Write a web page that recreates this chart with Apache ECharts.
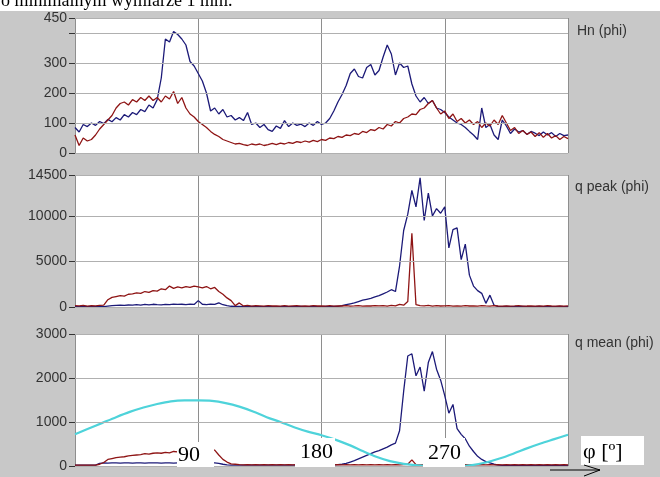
<!DOCTYPE html>
<html><head><meta charset="utf-8">
<script src="https://cdn.jsdelivr.net/npm/echarts@6/dist/echarts.min.js"></script>
<style>html,body{margin:0;padding:0;background:#c8c8c8}#c{width:660px;height:477px}</style>
</head><body><div id="c"></div>
<script>
// phase angle grid (degrees), step 3
const phi = [];
for (let i = 0; i <= 120; i++) phi.push(i * 3);

const hnBlue = [85,70,95,88,100,92,105,98,112,104,
118,110,128,120,135,128,145,138,160,150,
178,250,380,370,405,395,380,360,305,290,
265,240,200,140,150,130,145,120,125,110,
118,108,135,95,100,85,95,78,72,90,
82,108,88,100,92,96,88,100,92,105,
95,100,115,140,170,195,225,265,280,255,
250,285,295,260,275,320,360,330,260,300,
285,290,230,190,170,185,165,175,150,145,
135,120,110,100,95,85,72,60,45,150,
85,95,60,45,110,90,65,80,70,75,
62,72,66,58,70,60,68,55,65,58,
60];
const hnRed = [60,25,50,40,45,60,80,95,110,125,
150,165,170,160,178,170,185,175,190,175,
185,170,190,180,205,165,185,150,130,120,
105,95,85,72,62,55,45,40,35,30,
32,28,25,30,27,30,25,28,32,28,
33,30,35,32,38,35,40,36,42,38,
45,42,50,48,55,52,60,58,65,62,
72,68,78,75,85,80,95,90,105,100,
115,120,130,128,145,150,165,175,150,130,
140,115,130,105,115,100,110,95,105,85,
100,90,110,95,125,100,75,85,65,75,
62,70,55,68,52,65,50,58,45,55,
48];
const qpBlue = [50,40,60,30,50,40,60,50,100,150,
180,200,170,220,200,250,210,280,230,300,
260,230,280,250,320,280,300,260,320,280,
700,300,260,320,280,450,250,150,80,60,
60,50,40,60,50,40,50,60,40,50,
40,60,50,40,50,60,40,50,60,50,
40,60,50,70,60,150,250,350,450,600,
750,850,950,1100,1250,1450,1650,1900,1700,4500,
8400,10200,12800,11000,14200,9500,12500,10000,10800,10300,
11000,6500,8500,8700,5200,6900,3500,2300,1800,1500,
400,1300,200,50,40,60,30,50,40,60,
30,50,40,60,50,30,40,50,60,40,
50];
const qpRed = [150,120,180,100,160,130,170,200,800,1050,
1150,1250,1200,1400,1450,1550,1500,1700,1600,1800,
1750,2000,1900,2300,2050,2200,2100,2250,2150,2300,
2200,2100,2250,2000,2150,1700,1400,1000,700,150,
450,120,180,100,150,120,90,160,110,130,
100,140,90,120,150,100,130,90,140,110,
120,100,150,90,130,110,140,100,120,150,
100,130,110,160,120,140,100,180,130,300,
200,600,8100,250,150,120,180,100,140,110,
130,150,100,120,90,140,110,130,100,150,
120,100,140,110,90,130,100,120,150,100,
110,130,90,120,100,140,110,90,120,100,
130];
const qmBlue = [20,20,20,20,20,20,60,70,65,70,
70,65,70,70,65,70,70,65,70,70,
70,65,70,70,65,70,70,65,70,70,
70,70,65,70,70,60,40,25,20,20,
20,20,20,20,20,20,20,20,20,20,
20,20,20,20,20,20,20,20,20,20,
20,20,25,25,30,40,60,90,120,160,
200,240,280,320,350,390,430,480,520,800,
1700,2500,2550,2050,2250,1700,2350,2600,2200,1950,
1600,1200,1400,850,720,620,450,330,220,150,
100,70,40,20,15,15,15,15,15,15,
15,15,15,15,15,15,15,15,15,15,
15];
const qmRed = [20,20,20,20,20,20,40,80,150,170,
190,200,210,230,240,250,260,280,270,290,
300,290,310,300,330,320,350,340,360,350,
370,360,350,370,360,250,150,90,50,40,
30,25,30,25,30,25,30,25,30,25,
30,25,30,25,30,25,30,25,30,25,
30,25,30,25,30,25,30,25,30,25,
30,25,30,25,30,25,30,25,30,25,
30,40,140,30,25,30,25,30,25,30,
25,30,25,30,25,30,25,30,25,30,
25,30,25,30,25,30,25,30,25,30,
25,30,25,30,25,30,25,30,25,30,
25];
// test voltage (sine) sampled every 10 degrees
const voltPhi = [0,10,20,30,40,50,60,70,80,90,100,110,120,130,140,150,160,170,180,
190,200,210,220,230,240,250,260,270,280,290,300,310,320,330,340,350,360];
const voltVals = [720,850,980,1110,1230,1330,1410,1470,1490,1490,1480,1430,1350,1240,1110,1000,880,780,700,
600,480,340,210,110,50,15,0,0,0,20,80,170,280,400,510,610,710];

const panelNames = ['Hn (phi)', 'q peak (phi)', 'q mean (phi)'];
const yMax = [450, 14500, 3000];
const yStep = [100, 5000, 1000];
const xTickLabels = ['90', '180', '270'];
const xUnit = 'φ [º]';
const caption = 'o minimalnym wymiarze 1 mm.';

const pairs = (xs, ys) => xs.map((x, i) => [x, ys[i]]);

const NAVY = '#1c1a78', RED = '#8e1414', CYAN = '#4ed3da';
const grids = [
  {left: 75, top: 18, width: 493, height: 135},
  {left: 75, top: 175, width: 493, height: 132},
  {left: 75, top: 334, width: 493, height: 132}
];
const font = '"Liberation Sans", Arial, sans-serif';

const option = {
  animation: false,
  backgroundColor: '#c8c8c8',
  grid: grids.map(g => Object.assign({show: true, backgroundColor: '#ffffff', borderWidth: 0}, g)),
  xAxis: grids.map((g, i) => ({
    type: 'value', gridIndex: i, min: 0, max: 360, interval: 90,
    axisLabel: {show: false}, axisTick: {show: false}, axisLine: {show: false},
    splitLine: {lineStyle: {color: '#8e8e8e', width: 1}}
  })),
  yAxis: grids.map((g, i) => ({
    type: 'value', gridIndex: i, min: 0, max: yMax[i], interval: yStep[i], offset: 5, z: 5,
    axisLine: {show: false},
    axisTick: {show: true, length: 6, lineStyle: {color: '#333'}},
    axisLabel: {margin: 3, color: '#333', fontSize: 14, fontFamily: font,
      formatter: v => (i === 0 && v === 400) ? '' : String(v)},
    splitLine: {lineStyle: {color: '#b0b0b0', width: 1}}
  })),
  series: [
    {type: 'line', xAxisIndex: 0, yAxisIndex: 0, data: pairs(phi, hnBlue), color: NAVY},
    {type: 'line', xAxisIndex: 0, yAxisIndex: 0, data: pairs(phi, hnRed), color: RED},
    {type: 'line', xAxisIndex: 1, yAxisIndex: 1, data: pairs(phi, qpBlue), color: NAVY},
    {type: 'line', xAxisIndex: 1, yAxisIndex: 1, data: pairs(phi, qpRed), color: RED},
    {type: 'line', xAxisIndex: 2, yAxisIndex: 2, data: pairs(phi, qmBlue), color: NAVY},
    {type: 'line', xAxisIndex: 2, yAxisIndex: 2, data: pairs(phi, qmRed), color: RED},
    {type: 'line', xAxisIndex: 2, yAxisIndex: 2, data: pairs(voltPhi, voltVals), color: CYAN, smooth: 0.3,
      lineStyle: {width: 2.2}}
  ].map(s => Object.assign({symbol: 'none', showSymbol: false, lineStyle: {width: 1.3}}, s)),
  graphic: [
    {type: 'rect', shape: {x: 0, y: 0, width: 660, height: 11}, style: {fill: '#ffffff'}, z: 0},
    {type: 'text', x: 1, y: 1, z: 1, style: {text: caption, font: '18px "Liberation Serif", "Times New Roman", serif',
      fill: '#000', textVerticalAlign: 'middle', verticalAlign: 'middle'}},
    {type: 'rect', shape: {x: 0, y: 11, width: 660, height: 6}, style: {fill: '#c8c8c8'}, z: 2},
    {type: 'text', x: 577, y: 31, z: 5, style: {text: panelNames[0], font: '14px ' + font, fill: '#333',
      textVerticalAlign: 'middle', verticalAlign: 'middle'}},
    {type: 'text', x: 575, y: 187, z: 5, style: {text: panelNames[1], font: '14px ' + font, fill: '#333',
      textVerticalAlign: 'middle', verticalAlign: 'middle'}},
    {type: 'text', x: 575, y: 343, z: 5, style: {text: panelNames[2], font: '14px ' + font, fill: '#333',
      textVerticalAlign: 'middle', verticalAlign: 'middle'}},
    {type: 'rect', shape: {x: 177, y: 442, width: 37, height: 25}, style: {fill: '#fff'}, z: 10},
    {type: 'rect', shape: {x: 295, y: 438, width: 40, height: 29}, style: {fill: '#fff'}, z: 10},
    {type: 'rect', shape: {x: 423, y: 438, width: 42, height: 29}, style: {fill: '#fff'}, z: 10},
    {type: 'rect', shape: {x: 581, y: 436, width: 63, height: 29}, style: {fill: '#fff'}, z: 10},
    {type: 'text', x: 178, y: 455, z: 11, style: {text: xTickLabels[0], font: '22px "Liberation Serif", serif', fill: '#000',
      textVerticalAlign: 'middle', verticalAlign: 'middle'}},
    {type: 'text', x: 300, y: 452, z: 11, style: {text: xTickLabels[1], font: '22px "Liberation Serif", serif', fill: '#000',
      textVerticalAlign: 'middle', verticalAlign: 'middle'}},
    {type: 'text', x: 428, y: 453, z: 11, style: {text: xTickLabels[2], font: '22px "Liberation Serif", serif', fill: '#000',
      textVerticalAlign: 'middle', verticalAlign: 'middle'}},
    {type: 'text', x: 583, y: 452, z: 11, style: {text: xUnit, font: '22px "Liberation Serif", serif', fill: '#000',
      textVerticalAlign: 'middle', verticalAlign: 'middle'}},
    {type: 'polyline', z: 12, shape: {points: [[550, 470], [600, 470]]}, style: {stroke: '#000', lineWidth: 1, fill: null}},
    {type: 'polyline', z: 12, shape: {points: [[584, 465], [600, 470], [584, 476]]}, style: {stroke: '#000', lineWidth: 1, fill: null}}
  ]
};
const chart = echarts.init(document.getElementById('c'), null, {renderer: 'canvas'});
chart.setOption(option);
</script>
</body></html>
